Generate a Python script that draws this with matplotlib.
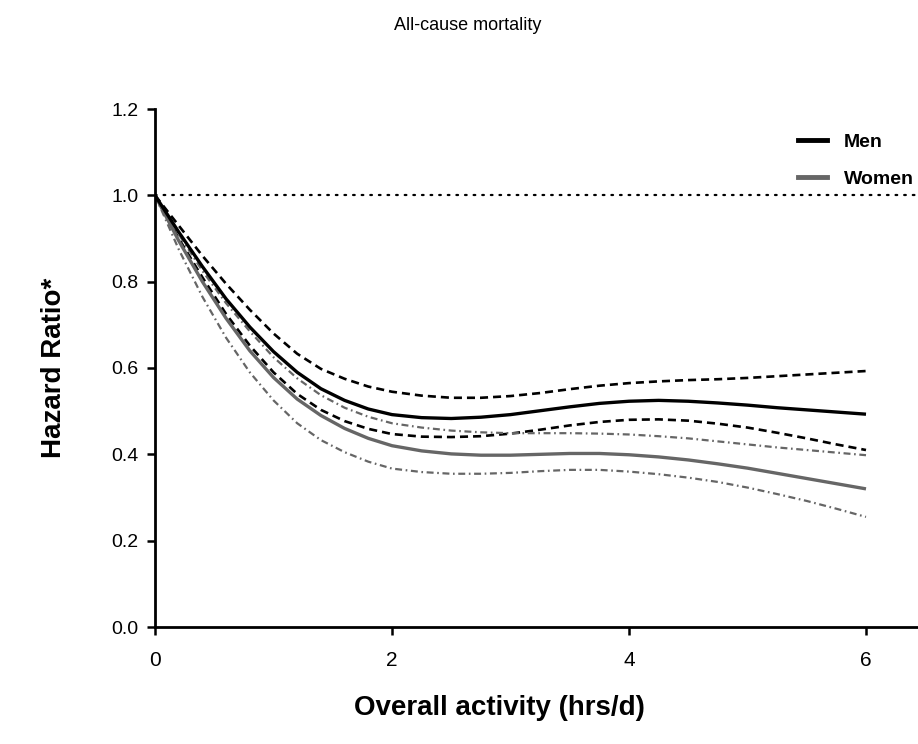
import matplotlib
matplotlib.use("Agg")
import matplotlib.pyplot as plt
from matplotlib.lines import Line2D

plt.rcParams['font.family'] = ['Liberation Sans', 'DejaVu Sans']
plt.rcParams['lines.scale_dashes'] = False

# Values
activity = [0.0, 0.2, 0.4, 0.6, 0.8, 1.0, 1.2, 1.4, 1.6, 1.8,
            2.0, 2.25, 2.5, 2.75, 3.0, 3.25, 3.5, 3.75, 4.0, 4.25, 4.5,
            4.75, 5.0, 5.25, 5.5, 5.75, 6.0]
men_hr = [1.0, 0.915, 0.835, 0.76, 0.695, 0.638, 0.59, 0.552, 0.525, 0.505,
          0.492, 0.485, 0.483, 0.486, 0.492, 0.501, 0.510, 0.518, 0.523,
          0.525, 0.523, 0.519, 0.514, 0.508, 0.503, 0.498, 0.493]
men_upper = [1.0, 0.93, 0.86, 0.795, 0.735, 0.68, 0.633, 0.598, 0.575, 0.557,
             0.545, 0.536, 0.531, 0.531, 0.535, 0.542, 0.551, 0.559, 0.565,
             0.569, 0.572, 0.574, 0.577, 0.581, 0.585, 0.589, 0.593]
men_lower = [1.0, 0.90, 0.81, 0.725, 0.652, 0.59, 0.54, 0.503, 0.477, 0.459,
             0.447, 0.441, 0.440, 0.442, 0.448, 0.457, 0.467, 0.475, 0.480,
             0.481, 0.478, 0.471, 0.462, 0.450, 0.437, 0.423, 0.410]
women_hr = [1.0, 0.895, 0.80, 0.715, 0.64, 0.578, 0.528, 0.49, 0.46, 0.437,
            0.420, 0.408, 0.401, 0.398, 0.398, 0.400, 0.402, 0.402, 0.399,
            0.394, 0.387, 0.378, 0.368, 0.356, 0.344, 0.332, 0.320]
women_upper = [1.0, 0.91, 0.825, 0.75, 0.685, 0.625, 0.576, 0.537, 0.508,
               0.487, 0.472, 0.462, 0.455, 0.451, 0.449, 0.449, 0.449, 0.448,
               0.446, 0.442, 0.437, 0.430, 0.423, 0.416, 0.410, 0.404, 0.398]
women_lower = [1.0, 0.875, 0.765, 0.67, 0.59, 0.525, 0.472, 0.433, 0.405,
               0.383, 0.367, 0.359, 0.355, 0.355, 0.357, 0.361, 0.364, 0.364,
               0.360, 0.354, 0.346, 0.336, 0.323, 0.308, 0.292, 0.274, 0.255]

x_ticks = [0, 2, 4, 6]
y_ticks = [0.0, 0.2, 0.4, 0.6, 0.8, 1.0, 1.2]

GRAY = '#666666'

fig = plt.figure(figsize=(9.18, 7.44), dpi=100)
ax = fig.add_axes([155 / 918, 117 / 744, (918 - 155) / 918, 518 / 744])

# reference line at HR = 1
ax.axhline(1.0, color='black', lw=1.6, dashes=(1.2, 5.0),
           dash_capstyle='round', zorder=1)

ci_kw = dict(solid_joinstyle='round', dash_joinstyle='round')
ax.plot(activity, men_upper, color='black', lw=1.9, dashes=(5.8, 3.6), **ci_kw)
ax.plot(activity, men_lower, color='black', lw=1.9, dashes=(5.8, 3.6), **ci_kw)
ax.plot(activity, women_upper, color=GRAY, lw=1.6,
        dashes=(5.0, 2.6, 1.2, 2.6), **ci_kw)
ax.plot(activity, women_lower, color=GRAY, lw=1.6,
        dashes=(5.0, 2.6, 1.2, 2.6), **ci_kw)
ax.plot(activity, women_hr, color=GRAY, lw=2.4, solid_capstyle='butt', **ci_kw)
ax.plot(activity, men_hr, color='black', lw=2.4, solid_capstyle='butt', **ci_kw)

ax.set_xlim(0, (918 - 155) / 118.5)
ax.set_ylim(0, 1.2)
ax.set_xticks(x_ticks)
ax.set_xticklabels([str(t) for t in x_ticks])
ax.set_yticks(y_ticks)
ax.set_yticklabels([f"{t:.1f}" for t in y_ticks])

for side in ['top', 'right']:
    ax.spines[side].set_visible(False)
for side in ['left', 'bottom']:
    ax.spines[side].set_linewidth(2.0)
ax.tick_params(axis='both', direction='out', length=6, width=1.8,
               labelsize=14, pad=6)
ax.tick_params(axis='x', labelsize=15, pad=11)

fig.text(499 / 918, 1 - 708 / 744, "Overall activity (hrs/d)", ha='center',
         va='center', fontsize=20, fontweight='bold')
ax.set_ylabel("Hazard Ratio*", fontsize=20, fontweight='bold', labelpad=32)

fig.text(468 / 918, 1 - 26 / 744, "All-cause mortality", ha='center',
         va='center', fontsize=13)

handles = [Line2D([], [], color='black', lw=3.5),
           Line2D([], [], color=GRAY, lw=3.5)]
ax.legend(handles, ['Men', 'Women'], loc='upper left',
          bbox_to_anchor=(780 / 918, 1 - 116 / 744),
          bbox_transform=fig.transFigure, frameon=False, handlelength=1.5,
          handletextpad=0.9, labelspacing=1.0,
          prop={'weight': 'bold', 'size': 14})

fig.savefig("out.png", dpi=100)
